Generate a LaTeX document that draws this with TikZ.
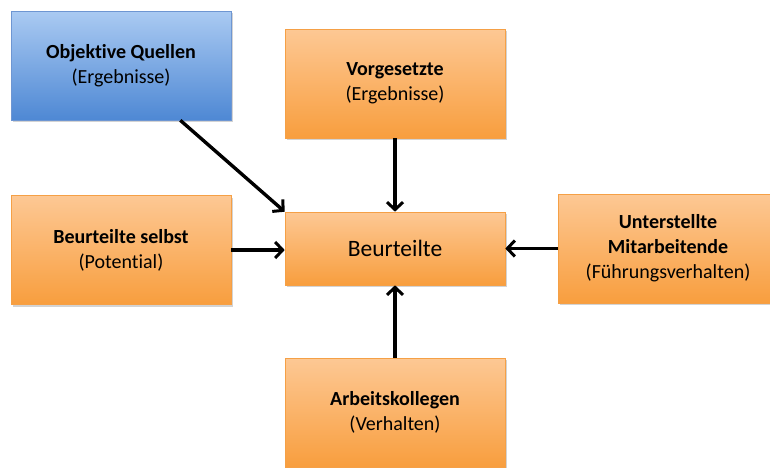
\documentclass[tikz,border=0pt]{standalone}
\usepackage{fontspec}
\setmainfont[Ligatures=NoCommon]{Carlito}
\usetikzlibrary{arrows.meta,shadows}
\tikzset{
  box/.style={rectangle, draw={rgb,255:red,245;green,160;blue,70}, line width=0.6pt,
    top color={rgb,255:red,253;green,200;blue,148}, bottom color={rgb,255:red,248;green,158;blue,62},
    minimum width=220pt, minimum height=109pt, align=center, inner sep=0pt,
    font=\fontsize{20}{25}\selectfont,
    drop shadow={shadow xshift=1.5pt, shadow yshift=-2pt, opacity=0.35, fill=gray}},
  bluebox/.style={box, draw={rgb,255:red,110;green,150;blue,210},
    top color={rgb,255:red,170;green,202;blue,242}, bottom color={rgb,255:red,78;green,136;blue,212}},
  arr/.style={line width=3.4pt, -{Straight Barb[length=7.5pt,width=16pt,line width=3pt]}}
}
\begin{document}
\begin{tikzpicture}[x=1pt,y=-1pt]
\useasboundingbox (0,0) rectangle (770,467);
\begin{scope}
\clip (0,0) rectangle (770,467);
\node[bluebox] (oq) at (121,65.5) {\textbf{Objektive Quellen}\\(Ergebnisse)};
\node[box] (vg) at (395,83.5) {\textbf{Vorgesetzte}\\(Ergebnisse)};
\node[box] (bs) at (121,250) {\textbf{Beurteilte selbst}\\(Potential)};
\node[box, minimum height=73pt, font=\fontsize{23.5}{28}\selectfont] (bt) at (395,248.5) {Beurteilte};
\node[box] (um) at (668,248.5) {\textbf{Unterstellte}\\\textbf{Mitarbeitende}\\(Führungsverhalten)};
\node[box] (ak) at (395,412.5) {\textbf{Arbeitskollegen}\\(Verhalten)};
\end{scope}
\draw[arr] ([xshift=-51pt]oq.south east) -- (bt.north west);
\draw[arr] (vg.south) -- (bt.north);
\draw[arr] (bs.east) -- (bs.east -| bt.west);
\draw[arr] (um.west) -- (um.west -| bt.east);
\draw[arr] (ak.north) -- (bt.south);
\end{tikzpicture}
\end{document}
